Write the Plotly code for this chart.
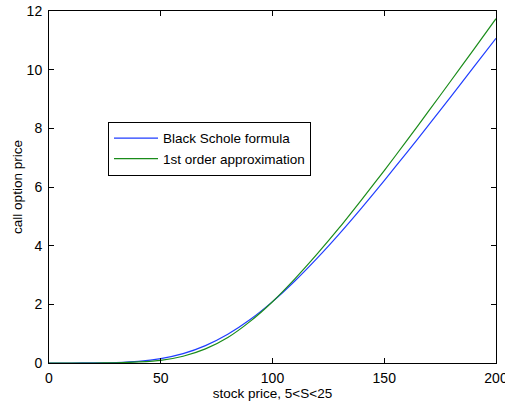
import plotly.graph_objects as go

# x positions (index of stock price grid) and values
x_vals = [0, 10, 20, 30, 40, 50, 60, 70, 80, 90, 100,
          110, 120, 130, 140, 150, 160, 170, 180, 190, 200]
black_scholes = [0.0, 0.0, 0.003, 0.017, 0.057, 0.151, 0.320, 0.594, 0.981, 1.483, 2.092,
                 2.795, 3.575, 4.412, 5.298, 6.22, 7.162, 8.125, 9.099, 10.083, 11.07]
first_order = [0.0, 0.0, 0.0, 0.005, 0.035, 0.09, 0.23, 0.48, 0.87, 1.42, 2.09,
               2.87, 3.72, 4.62, 5.58, 6.56, 7.57, 8.60, 9.64, 10.68, 11.74]

series_names = ["Black Schole formula", "1st order approximation"]
x_ticks = [0, 50, 100, 150, 200]
y_ticks = [0, 2, 4, 6, 8, 10, 12]

FONT = "Liberation Sans, Arial, Helvetica, sans-serif"

fig = go.Figure()
fig.add_trace(go.Scatter(x=x_vals, y=black_scholes, mode="lines", name=series_names[0],
                         line=dict(color="#1f3dff", width=1.2, shape="spline", smoothing=0.6)))
fig.add_trace(go.Scatter(x=x_vals, y=first_order, mode="lines", name=series_names[1],
                         line=dict(color="#1a8c1a", width=1.2, shape="spline", smoothing=0.6)))

axis_common = dict(showgrid=False, zeroline=False, showline=True, linecolor="black",
                   linewidth=1, mirror="ticks", ticks="inside", ticklen=5,
                   tickcolor="black", automargin=False, ticklabeloverflow="allow",
                   tickfont=dict(family=FONT, size=14, color="black"))

fig.update_xaxes(range=[0, 200], tickvals=x_ticks, ticktext=[str(v) for v in x_ticks],
                 title=dict(text="stock price, 5<S<25", font=dict(family=FONT, size=13.5, color="black"),
                            standoff=2),
                 ticklabelstandoff=2,
                 **axis_common)
fig.update_yaxes(range=[0, 12], tickvals=y_ticks, ticktext=[str(v) for v in y_ticks],
                 title=dict(text="call option price", font=dict(family=FONT, size=13.5, color="black"),
                            standoff=0),
                 ticklabelstandoff=3,
                 **axis_common)

fig.update_layout(
    width=505, height=403,
    margin=dict(l=49, r=9, t=11, b=40),
    paper_bgcolor="white", plot_bgcolor="white",
    showlegend=True,
    legend=dict(x=0.132, y=0.685, xanchor="left", yanchor="top",
                bgcolor="white", bordercolor="black", borderwidth=1,
                font=dict(family=FONT, size=13.5, color="black"),
                tracegroupgap=0, itemwidth=44),
)

# remove the default 8px page margin so the figure fills the window exactly
fig.write_html("out.html",
               config={"displayModeBar": False},
               post_script="document.body.style.margin='0';document.body.style.overflow='hidden';")
